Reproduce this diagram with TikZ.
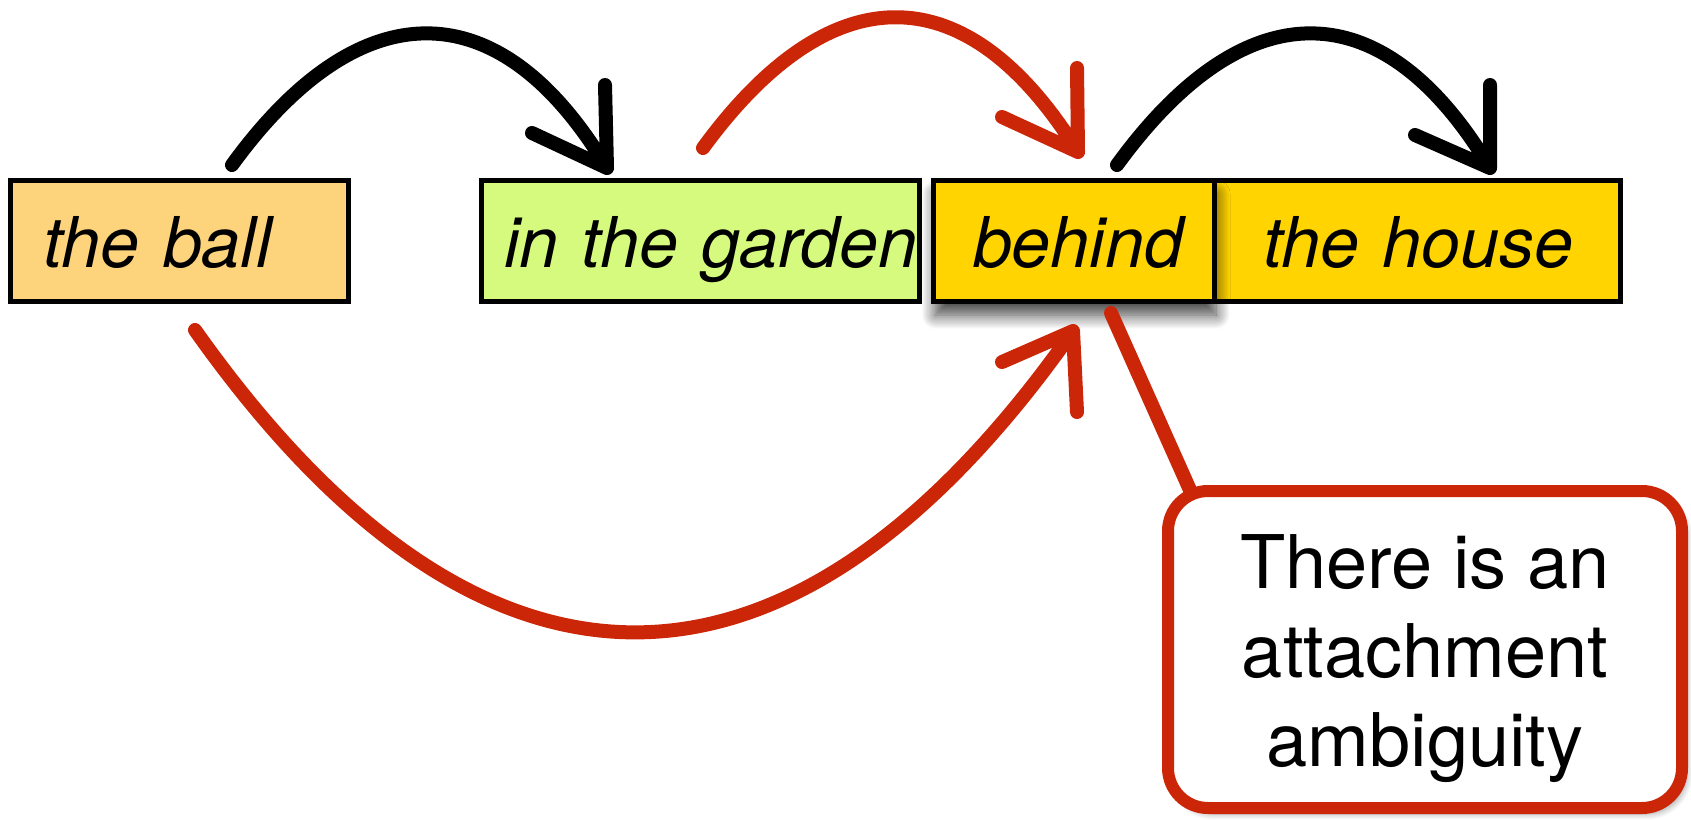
\documentclass[tikz,border=0pt]{standalone}
\usepackage{fontspec}
\setmainfont{TeX Gyre Heros}
\usetikzlibrary{shadows.blur}
\definecolor{ballfill}{RGB}{253,211,124}
\definecolor{gardenfill}{RGB}{213,250,125}
\definecolor{goldfill}{RGB}{255,212,0}
\definecolor{sketchred}{RGB}{204,38,8}
\begin{document}
\begin{tikzpicture}[x=1pt,y=-1pt,
  wbox/.style={draw=black, line width=5pt, minimum height=121pt, inner ysep=0pt,
    align=left, text height=53pt, text depth=0pt,
    font=\fontsize{70}{84}\selectfont\itshape},
  sketch/.style={line width=14pt, line cap=round, line join=round},
  notebox/.style={draw=sketchred, line width=12pt, fill=white, rounded corners=40pt,
    align=center, inner sep=0pt, font=\fontsize{74}{89}\selectfont,
    blur shadow={shadow xshift=5pt, shadow yshift=-6pt, shadow blur radius=6pt,
      shadow blur steps=8, shadow opacity=35}},
  ]
\useasboundingbox (0,0) rectangle (1691,819);

% word boxes
\node[wbox, fill=ballfill, minimum width=338pt, inner xsep=33pt, text width=272pt]
  (ball) at (179.5,240.5) {\mbox{the ball}};
\node[wbox, fill=gardenfill, minimum width=438pt, inner xsep=23pt, text width=392pt]
  (garden) at (700,240.5) {\mbox{in the garden}};
\node[wbox, fill=goldfill, minimum width=406pt, inner xsep=49pt, text width=308pt]
  (house) at (1417,240.5) {\mbox{the house}};
\node[wbox, fill=goldfill, minimum width=280.5pt, inner xsep=39.5pt, text width=201.5pt,
  blur shadow={shadow xshift=2pt, shadow yshift=-14pt, shadow blur radius=14pt,
    shadow blur steps=14, shadow opacity=75}]
  (behind) at (1073.75,240.5) {\mbox{behind}};

% arc end points
\coordinate (a1s) at (232,165);
\coordinate (a1t) at (607,168);
\coordinate (a2s) at (703,148);
\coordinate (a2t) at (1078,152);
\coordinate (a3s) at (1117,165);
\coordinate (a3t) at (1490,168);
\coordinate (a4s) at (195,330);
\coordinate (a4t) at (1073,331);

% black arc: the ball -> in the garden
\draw[sketch, black] (a1s) .. controls (360,-11) and (500,-11) .. (a1t)
  (a1t) -- ++(-2,-83) (a1t) -- ++(-75,-35);
% red arc: in the garden -> behind
\draw[sketch, sketchred] (a2s) .. controls (831,-27) and (967,-27) .. (a2t)
  (a2t) -- ++(-1,-84) (a2t) -- ++(-76,-35);
% black arc: behind -> the house
\draw[sketch, black] (a3s) .. controls (1245,-11) and (1383,-11) .. (a3t)
  (a3t) -- ++(0,-83) (a3t) -- ++(-75,-33);
% red arc below: the ball -> behind
\draw[sketch, sketchred] (a4s) .. controls (480,733) and (790,733) .. (a4t)
  (a4t) -- ++(4,81) (a4t) -- ++(-71,31);

% callout
\node[notebox, minimum width=514pt, minimum height=317pt] (note) at (1425,649.5)
  {\rule{0pt}{73pt}There is an\\attachment\\ambiguity};
\coordinate (tailtop) at (1111,313);
\coordinate (tailfoot) at (1190,490);
\draw[sketch, sketchred] (tailtop) -- (tailfoot);
\end{tikzpicture}
\end{document}
